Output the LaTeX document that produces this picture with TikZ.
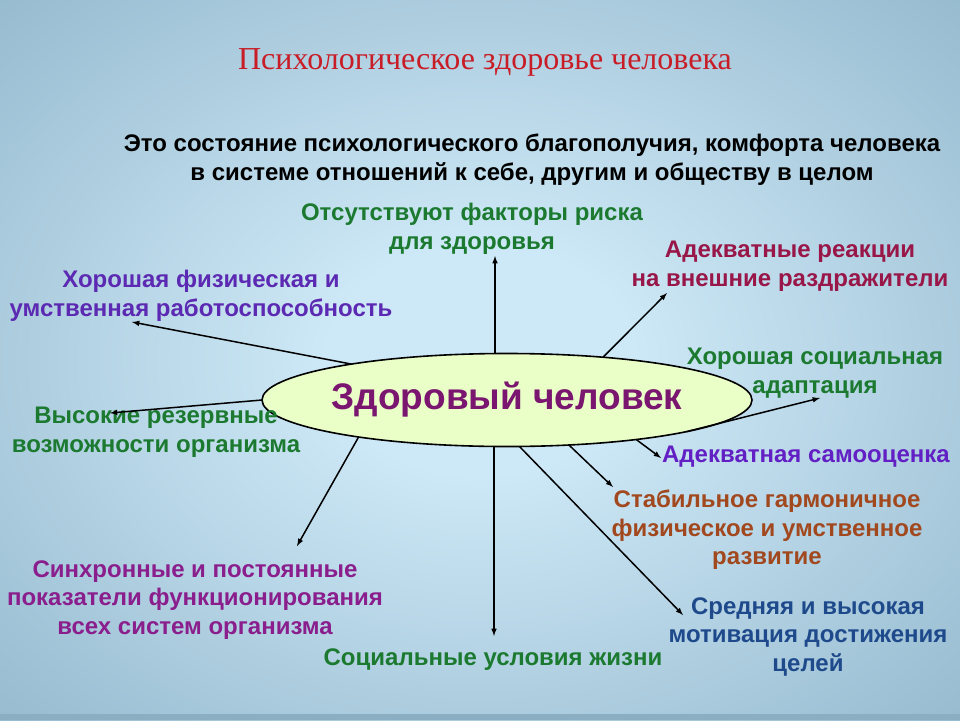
\documentclass[tikz,border=0pt]{standalone}
\usepackage{fontspec}
\setmainfont{Liberation Sans}
\newfontfamily\titlefont{Liberation Serif}
\usetikzlibrary{shapes,arrows,positioning,calc}

\definecolor{bgin}{RGB}{205,232,246}
\definecolor{bgmid}{RGB}{150,186,207}
\definecolor{bgout}{RGB}{102,136,162}
\definecolor{bgcorner}{RGB}{88,120,146}
\definecolor{bgstrip}{RGB}{140,174,194}
\definecolor{titlered}{RGB}{200,28,38}
\definecolor{hubfill}{RGB}{234,255,200}
\definecolor{hubtext}{RGB}{122,22,112}
\definecolor{riskgreen}{RGB}{28,122,48}
\definecolor{reactred}{RGB}{152,22,72}
\definecolor{workpurple}{RGB}{92,42,178}
\definecolor{selfpurple}{RGB}{98,32,196}
\definecolor{stablebrown}{RGB}{162,72,30}
\definecolor{motivblue}{RGB}{30,74,140}
\definecolor{syncmagenta}{RGB}{138,30,140}

\pgfdeclareradialshading{bgshade}{\pgfpoint{0bp}{0bp}}{%
  color(0bp)=(bgin); color(8bp)=(bgin); color(36bp)=(bgmid); color(56bp)=(bgout); color(72bp)=(bgcorner)}

\begin{document}
\begin{tikzpicture}[x=1pt, y=-1pt,
  lbl/.style={align=center, inner sep=0pt, font=\bfseries\fontsize{24}{28.5}\selectfont},
  link/.style={-latex, line width=1.5pt}]

\useasboundingbox (0,0) rectangle (960,720);

% Background
\shade[shading=bgshade] (0,0) rectangle (960,720);
\fill[bgstrip] (0,714) rectangle (960,720);

% Title and definition
\node[text=titlered, font=\titlefont\fontsize{32}{36}\selectfont] (title) at (485,62) {Психологическое здоровье человека};
\node[align=center, font=\bfseries\fontsize{24}{29}\selectfont] (definition) at (532,160) {
  Это состояние психологического благополучия, комфорта человека\\в системе отношений к себе, другим и обществу в целом
};

% Healthy person (center)
\node[draw, ellipse, line width=1.6pt, fill=hubfill, minimum width=490pt, minimum height=93pt,
  inner xsep=-12pt, inner ysep=0pt, outer sep=0pt,
  text=hubtext, font=\bfseries\fontsize{37}{40}\selectfont] (hub) at (507,400) {Здоровый человек};

% Signs of health
\node[lbl, text=riskgreen] (risk) at (472,229) {Отсутствуют факторы риска\\для здоровья};
\node[lbl, text=reactred] (react) at (790,266) {Адекватные реакции\\на внешние раздражители};
\node[lbl, text=workpurple] (work) at (201,296) {Хорошая физическая и\\умственная работоспособность};
\node[lbl, text=riskgreen] (social) at (815,373) {Хорошая социальная\\адаптация};
\node[lbl, text=riskgreen] (reserve) at (156,432) {Высокие резервные\\возможности организма};
\node[lbl, text=selfpurple] (selfest) at (806,457) {Адекватная самооценка};
\node[lbl, text=stablebrown] (stable) at (767,530) {Стабильное гармоничное\\физическое и умственное\\развитие};
\node[lbl, text=syncmagenta] (sync) at (195,600) {Синхронные и постоянные\\показатели функционирования\\всех систем организма};
\node[lbl, text=motivblue] (motiv) at (808,637) {Средняя и высокая\\мотивация достижения\\целей};
\node[lbl, text=riskgreen] (living) at (493,660) {Социальные условия жизни};

% Arrow tips
\coordinate (riskTip) at (495,256);
\coordinate (reactTip) at (667,293);
\coordinate (workTip) at (132,322);
\coordinate (socialTip) at (820,398);
\coordinate (reserveTip) at (110,413);
\coordinate (selfTip) at (661,458);
\coordinate (stableTip) at (613,487);
\coordinate (syncTip) at (297,546);
\coordinate (motivTip) at (683,615);
\coordinate (livingTip) at (494,636);

% Connections
\draw[link] (hub.north -| riskTip) -- (riskTip);
\draw[link] (hub.24) -- (reactTip);
\draw[link] (hub.167) -- (workTip);
\draw[link] (hub.350) -- (socialTip);
\draw[link] (hub.180) -- (reserveTip);
\draw[link] (hub.343) -- (selfTip);
\draw[link] (hub.324) -- (stableTip);
\draw[link] (hub.194) -- (syncTip);
\draw[link] (hub.285) -- (motivTip);
\draw[link] (hub.south -| livingTip) -- (livingTip);

\end{tikzpicture}
\end{document}
